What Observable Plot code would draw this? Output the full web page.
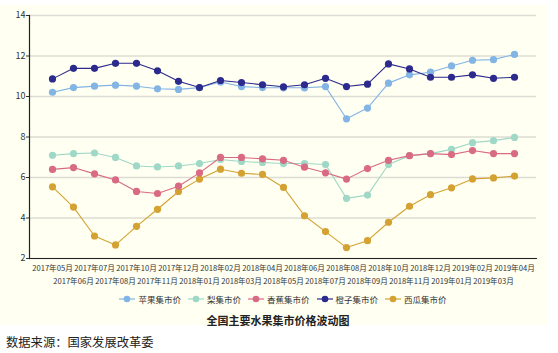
<!DOCTYPE html>
<html><head><meta charset="utf-8">
<script src="https://cdn.jsdelivr.net/npm/d3@7"></script>
<script src="https://cdn.jsdelivr.net/npm/@observablehq/plot@0.6"></script>
<style>
body{margin:0;background:#fff;font-family:"Noto Sans CJK SC","Noto Sans",sans-serif;width:558px;height:353px;position:relative;overflow:hidden}
#bg{position:absolute;left:0;top:5px;width:548px;height:320px;background:#fffff2}
#chart{position:absolute;left:0;top:5px}
#legend{position:absolute;left:0;top:293px;width:558px;display:flex;justify-content:center;gap:7px;font-size:8.5px;color:#333;padding-left:4px}
#legend span.it{display:flex;align-items:center;gap:3px}
#title{position:absolute;left:0;top:312px;width:556px;text-align:center;font-size:11px;font-weight:bold;color:#222}
#src{position:absolute;left:6px;top:333px;font-size:12.3px;color:#222}
</style></head>
<body>
<div id="bg"></div>
<div id="chart"></div>
<div id="legend"></div>
<div id="title">全国主要水果集市价格波动图</div>
<div id="src">数据来源：国家发展改革委</div>
<script>
const months = ["2017年05月","2017年06月","2017年07月","2017年08月","2017年10月","2017年11月","2017年12月","2018年01月","2018年02月","2018年03月","2018年04月","2018年05月","2018年06月","2018年07月","2018年08月","2018年09月","2018年10月","2018年11月","2018年12月","2019年01月","2019年02月","2019年03月","2019年04月"];
const apple = [10.21,10.44,10.51,10.56,10.51,10.38,10.35,10.44,10.72,10.49,10.44,10.43,10.43,10.49,8.90,9.43,10.66,11.07,11.20,11.51,11.79,11.82,12.08];
const pear = [7.10,7.18,7.21,6.99,6.57,6.52,6.57,6.69,6.89,6.79,6.74,6.69,6.69,6.64,4.97,5.13,6.64,7.08,7.18,7.39,7.72,7.82,7.98];
const banana = [6.40,6.49,6.18,5.88,5.31,5.21,5.57,6.23,6.99,6.99,6.92,6.85,6.51,6.23,5.92,6.44,6.85,7.08,7.18,7.13,7.33,7.18,7.18];
const orange = [10.87,11.39,11.39,11.64,11.64,11.27,10.75,10.44,10.79,10.69,10.58,10.48,10.58,10.90,10.49,10.61,11.61,11.36,10.95,10.95,11.07,10.90,10.95];
const watermelon = [5.54,4.54,3.11,2.67,3.59,4.43,5.31,5.92,6.41,6.21,6.15,5.51,4.11,3.33,2.54,2.88,3.79,4.58,5.15,5.49,5.93,5.98,6.07];
const seriesNames = ["苹果集市价","梨集市价","香蕉集市价","橙子集市价","西瓜集市价"];
const seriesColors = ["#82b4e4","#9fd8c6","#d86a84","#2c2a8c","#d4a232"];
const yTicks = [2,4,6,8,10,12,14];

const values = [apple,pear,banana,orange,watermelon];
const drawOrder = [4,1,2,0,3];
const data = [];
for (const s of drawOrder) months.forEach((m,i)=>data.push({month:m, value:values[s][i], series:seriesNames[s]}));

const topTicks = months.filter((d,i)=>i%2===0);
const botTicks = months.filter((d,i)=>i%2===1);

const plot = Plot.plot({
  width: 548, height: 284,
  marginLeft: 29, marginRight: 12, marginTop: 10, marginBottom: 31,
  style: {background:"transparent", fontFamily:"'Noto Sans CJK SC','Noto Sans',sans-serif"},
  x: {type:"point", domain: months, padding: 0.53, label: null},
  y: {domain:[2,14], ticks: yTicks, label: null},
  color: {domain: seriesNames, range: seriesColors},
  marks: [
    Plot.gridY(yTicks, {stroke:"#dcdcd4", strokeOpacity:1, strokeWidth:1.5}),
    Plot.axisY(yTicks, {tickSize:3, tickPadding:1, fontSize:9, color:"#333", label:null}),
    Plot.axisX(topTicks, {tickSize:0, tickPadding:7, fontSize:7.6, color:"#333", label:null}),
    Plot.axisX(botTicks, {tickSize:0, tickPadding:20, fontSize:7.6, color:"#333", label:null}),
    Plot.line(data, {x:"month", y:"value", z:"series", stroke:"series", strokeWidth:1.1}),
    Plot.dot(data, {x:"month", y:"value", fill:"series", r:3.6}),
    Plot.frame({anchor:"left", stroke:"#222", strokeWidth:1.2}),
    Plot.frame({anchor:"bottom", stroke:"#222", strokeWidth:1.2})
  ]
});
document.getElementById("chart").appendChild(plot);

const leg = document.getElementById("legend");
seriesNames.forEach((n,i)=>{
  const it = document.createElement("span"); it.className="it";
  it.innerHTML = `<svg width="16" height="8"><line x1="0" x2="16" y1="4" y2="4" stroke="${seriesColors[i]}" stroke-width="1.2"/><circle cx="8" cy="4" r="3.3" fill="${seriesColors[i]}"/></svg><span>${n}</span>`;
  leg.appendChild(it);
});
</script>
</body></html>
